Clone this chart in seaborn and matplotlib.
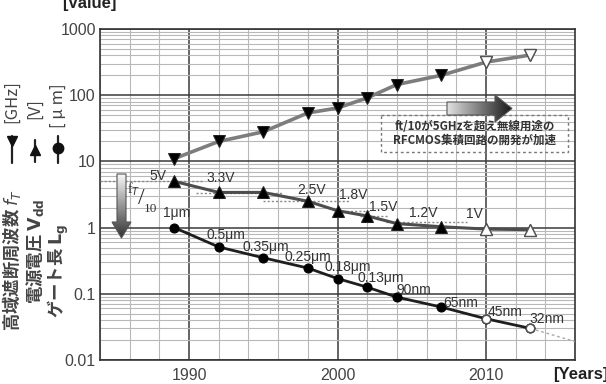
import numpy as np
import pandas as pd
import seaborn as sns
import matplotlib.pyplot as plt
from matplotlib.ticker import FixedLocator, LogLocator, MultipleLocator, FuncFormatter, NullFormatter
from matplotlib.patches import Polygon, Rectangle

# values
years = [1989, 1992, 1995, 1998, 2000, 2002, 2004, 2007, 2010, 2013]
ft_ghz = [11, 20, 28, 54, 64, 91, 145, 200, 316, 405]
vdd_v = [5.0, 3.4, 3.4, 2.5, 1.8, 1.5, 1.15, 1.03, 0.95, 0.93]
lg_um = [1.0, 0.51, 0.35, 0.245, 0.17, 0.126, 0.089, 0.063, 0.042, 0.030]
lg_trend_year = [2013, 2016]
lg_trend_um = [0.030, 0.019]
n_projected = 2  # last points drawn hollow

vdd_levels = [5.0, 3.3, 2.5, 1.8, 1.5, 1.2]
vdd_level_from = [1984, 1990.5, 1995, 2000, 2001.5, 2003.3]
vdd_level_to = [1991, 1996.3, 2000.8, 2002.2, 2003.5, 2008.7]

vdd_text = ["5V", "3.3V", "2.5V", "1.8V", "1.5V", "1.2V", "1V"]
lg_text = ["1μm", "0.5μm", "0.35μm", "0.25μm", "0.18μm", "0.13μm",
           "90nm", "65nm", "45nm", "32nm"]

sns.set_style("white")
plt.rcParams["font.family"] = ["Liberation Sans", "Noto Sans CJK JP", "DejaVu Sans"]
JP = ["Noto Sans CJK JP", "DejaVu Sans"]
INK = "#333333"

df = pd.DataFrame({"year": years, "ft": ft_ghz, "vdd": vdd_v, "lg": lg_um})

fig = plt.figure(figsize=(6.06, 3.84), dpi=100)
ax = fig.add_axes([100 / 606, 24 / 384, 475 / 606, 331 / 384])

sns.lineplot(data=df, x="year", y="ft", ax=ax, color="#7d7d7d", lw=2.6,
             marker="v", markersize=8, markerfacecolor="black",
             markeredgecolor="#222", zorder=4)
sns.lineplot(data=df, x="year", y="vdd", ax=ax, color="#4d4d4d", lw=2.2,
             marker="^", markersize=8, markerfacecolor="black",
             markeredgecolor="#222", zorder=4)
sns.lineplot(data=df, x="year", y="lg", ax=ax, color="#1e1e1e", lw=2.0,
             marker="o", markersize=6.5, markerfacecolor="black",
             markeredgecolor="black", zorder=4)
ax.plot(lg_trend_year, lg_trend_um, ls=(0, (2, 2)), color="#aaaaaa", lw=1, zorder=3)

proj = df.tail(n_projected)
ax.plot(proj["year"], proj["ft"], "v", ms=9, mfc="white", mec="#555", mew=1, zorder=5)
ax.plot(proj["year"], proj["vdd"], "^", ms=9, mfc="white", mec="#555", mew=1, zorder=5)
ax.plot(proj["year"], proj["lg"], "o", ms=6, mfc="white", mec="#555", mew=1, zorder=5)

ax.hlines(vdd_levels, vdd_level_from, vdd_level_to, colors="#8a8a8a",
          linestyles=(0, (1.5, 1.5)), lw=1, zorder=3)

ax.set_yscale("log")
ax.set_xlim(1984, 2016)
ax.set_ylim(0.01, 1000)
ax.xaxis.set_major_locator(FixedLocator([1990, 2000, 2010]))
ax.xaxis.set_minor_locator(MultipleLocator(2))
ax.yaxis.set_major_locator(LogLocator(base=10, numticks=10))
ax.yaxis.set_minor_locator(LogLocator(base=10, subs=np.arange(2, 10), numticks=100))
ax.yaxis.set_major_formatter(FuncFormatter(lambda v, p: f"{v:g}"))
ax.yaxis.set_minor_formatter(NullFormatter())
ax.set_axisbelow(True)
ax.grid(which="minor", color="#b8b8b8", lw=0.8)
ax.grid(which="major", color="#3a3a3a", lw=1.1)
ax.tick_params(which="both", length=0, labelsize=11.5, colors="#444")
ax.tick_params(axis="y", pad=3)
ax.tick_params(axis="x", pad=6)
ax.set_xlabel("")
ax.set_ylabel("")
for s in ax.spines.values():
    s.set_color("#333")
    s.set_linewidth(1.2)

# overlay in pixel coordinates for annotations
ov = fig.add_axes([0, 0, 1, 1], zorder=10)
ov.axis("off")


def grad_arrow(verts, extent, grad):
    poly = Polygon(verts, closed=True, fc="none", ec="#555", lw=0.8, zorder=3)
    ov.add_patch(poly)
    im = ov.imshow(grad, extent=extent, cmap="gray", vmin=0, vmax=1,
                   aspect="auto", origin="upper", zorder=2, interpolation="bilinear")
    im.set_clip_path(poly)


grad_arrow([(117, 174), (126, 174), (126, 222), (131, 222), (121.5, 238), (112, 222), (117, 222)],
           (112, 131, 238, 174), np.linspace(0.97, 0.2, 64)[:, None])
grad_arrow([(447, 102), (495, 102), (495, 95), (512, 108.5), (495, 122), (495, 115), (447, 115)],
           (447, 512, 122, 95), np.linspace(0.88, 0.1, 64)[None, :])
ov.set_xlim(0, 606)
ov.set_ylim(384, 0)

ov.text(134, 189, "f$_T$", fontsize=10, family="Liberation Serif", color=INK,
        ha="center", va="center", zorder=6)
ov.text(141, 199, "/", fontsize=17, family="Liberation Serif", color=INK,
        ha="center", va="center", zorder=6)
ov.text(150, 209, "10", fontsize=9.5, family="Liberation Serif", color=INK,
        ha="center", va="center", zorder=6)

ov.add_patch(Rectangle((381, 115), 187, 37, fill=False, ec="#777", lw=1,
                       ls=(0, (2, 2)), zorder=1))
ov.text(475, 127, "ft/10が5GHzを超え無線用途の", family=JP, fontsize=8.3,
        fontweight="bold", color=INK, ha="center", va="center", zorder=1)
ov.text(475, 140, "RFCMOS集積回路の開発が加速", family=JP, fontsize=8.3,
        fontweight="bold", color=INK, ha="center", va="center", zorder=1)

vdd_pos = [(158, 176), (221, 178), (312, 190), (353, 195), (383, 207), (423, 213), (474, 214)]
for t, (x, y) in zip(vdd_text, vdd_pos):
    ov.text(x, y, t, fontsize=10, color=INK, ha="center", va="center")
lg_pos = [(177, 213), (226, 235), (266, 247), (308, 257), (348, 267), (381, 278),
          (414, 290), (461, 303), (505, 312), (547, 319)]
for t, (x, y) in zip(lg_text, lg_pos):
    ov.text(x, y, t, fontsize=10, color=INK, ha="center", va="center")

# rotated axis description with legend glyphs
cols = [12, 35, 58]
glyphs = [("v", 136, 163, 141), ("^", 140, 162, 150), ("o", 136, 163, 148)]
for cx, (m, y0, y1, ym) in zip(cols, glyphs):
    ov.plot([cx, cx], [y0, y1], color="#222", lw=1.6)
    ov.plot([cx], [ym], m, color="#111", ms=7.5)
units = ["[GHz]", "[V]", "[ μ m]"]
unit_bottoms = [123, 119, 128]
for cx, u, b in zip(cols, units, unit_bottoms):
    ov.text(cx, b, u, rotation=90, family=JP, fontsize=12, color="#444",
            ha="center", va="bottom")
names = ["高域遮断周波数 $f_T$", "電源電圧 $\\mathbf{V_{dd}}$", "ゲート長 $\\mathbf{L_g}$"]
bottoms = [331, 304, 318]
for cx, n, b in zip(cols, names, bottoms):
    ov.text(cx, b, n, rotation=90, family=JP, fontsize=12.5, fontweight="bold",
            color="#444", ha="center", va="bottom")

fig.text(62 / 606, 1 - 8 / 384, "[Value]", fontsize=12, fontweight="bold",
         color="#222", ha="left", va="baseline")
fig.text(553 / 606, 1 - 379 / 384, "[Years]", fontsize=12, fontweight="bold",
         color="#222", ha="left", va="baseline")

fig.savefig("out.png", dpi=100)
